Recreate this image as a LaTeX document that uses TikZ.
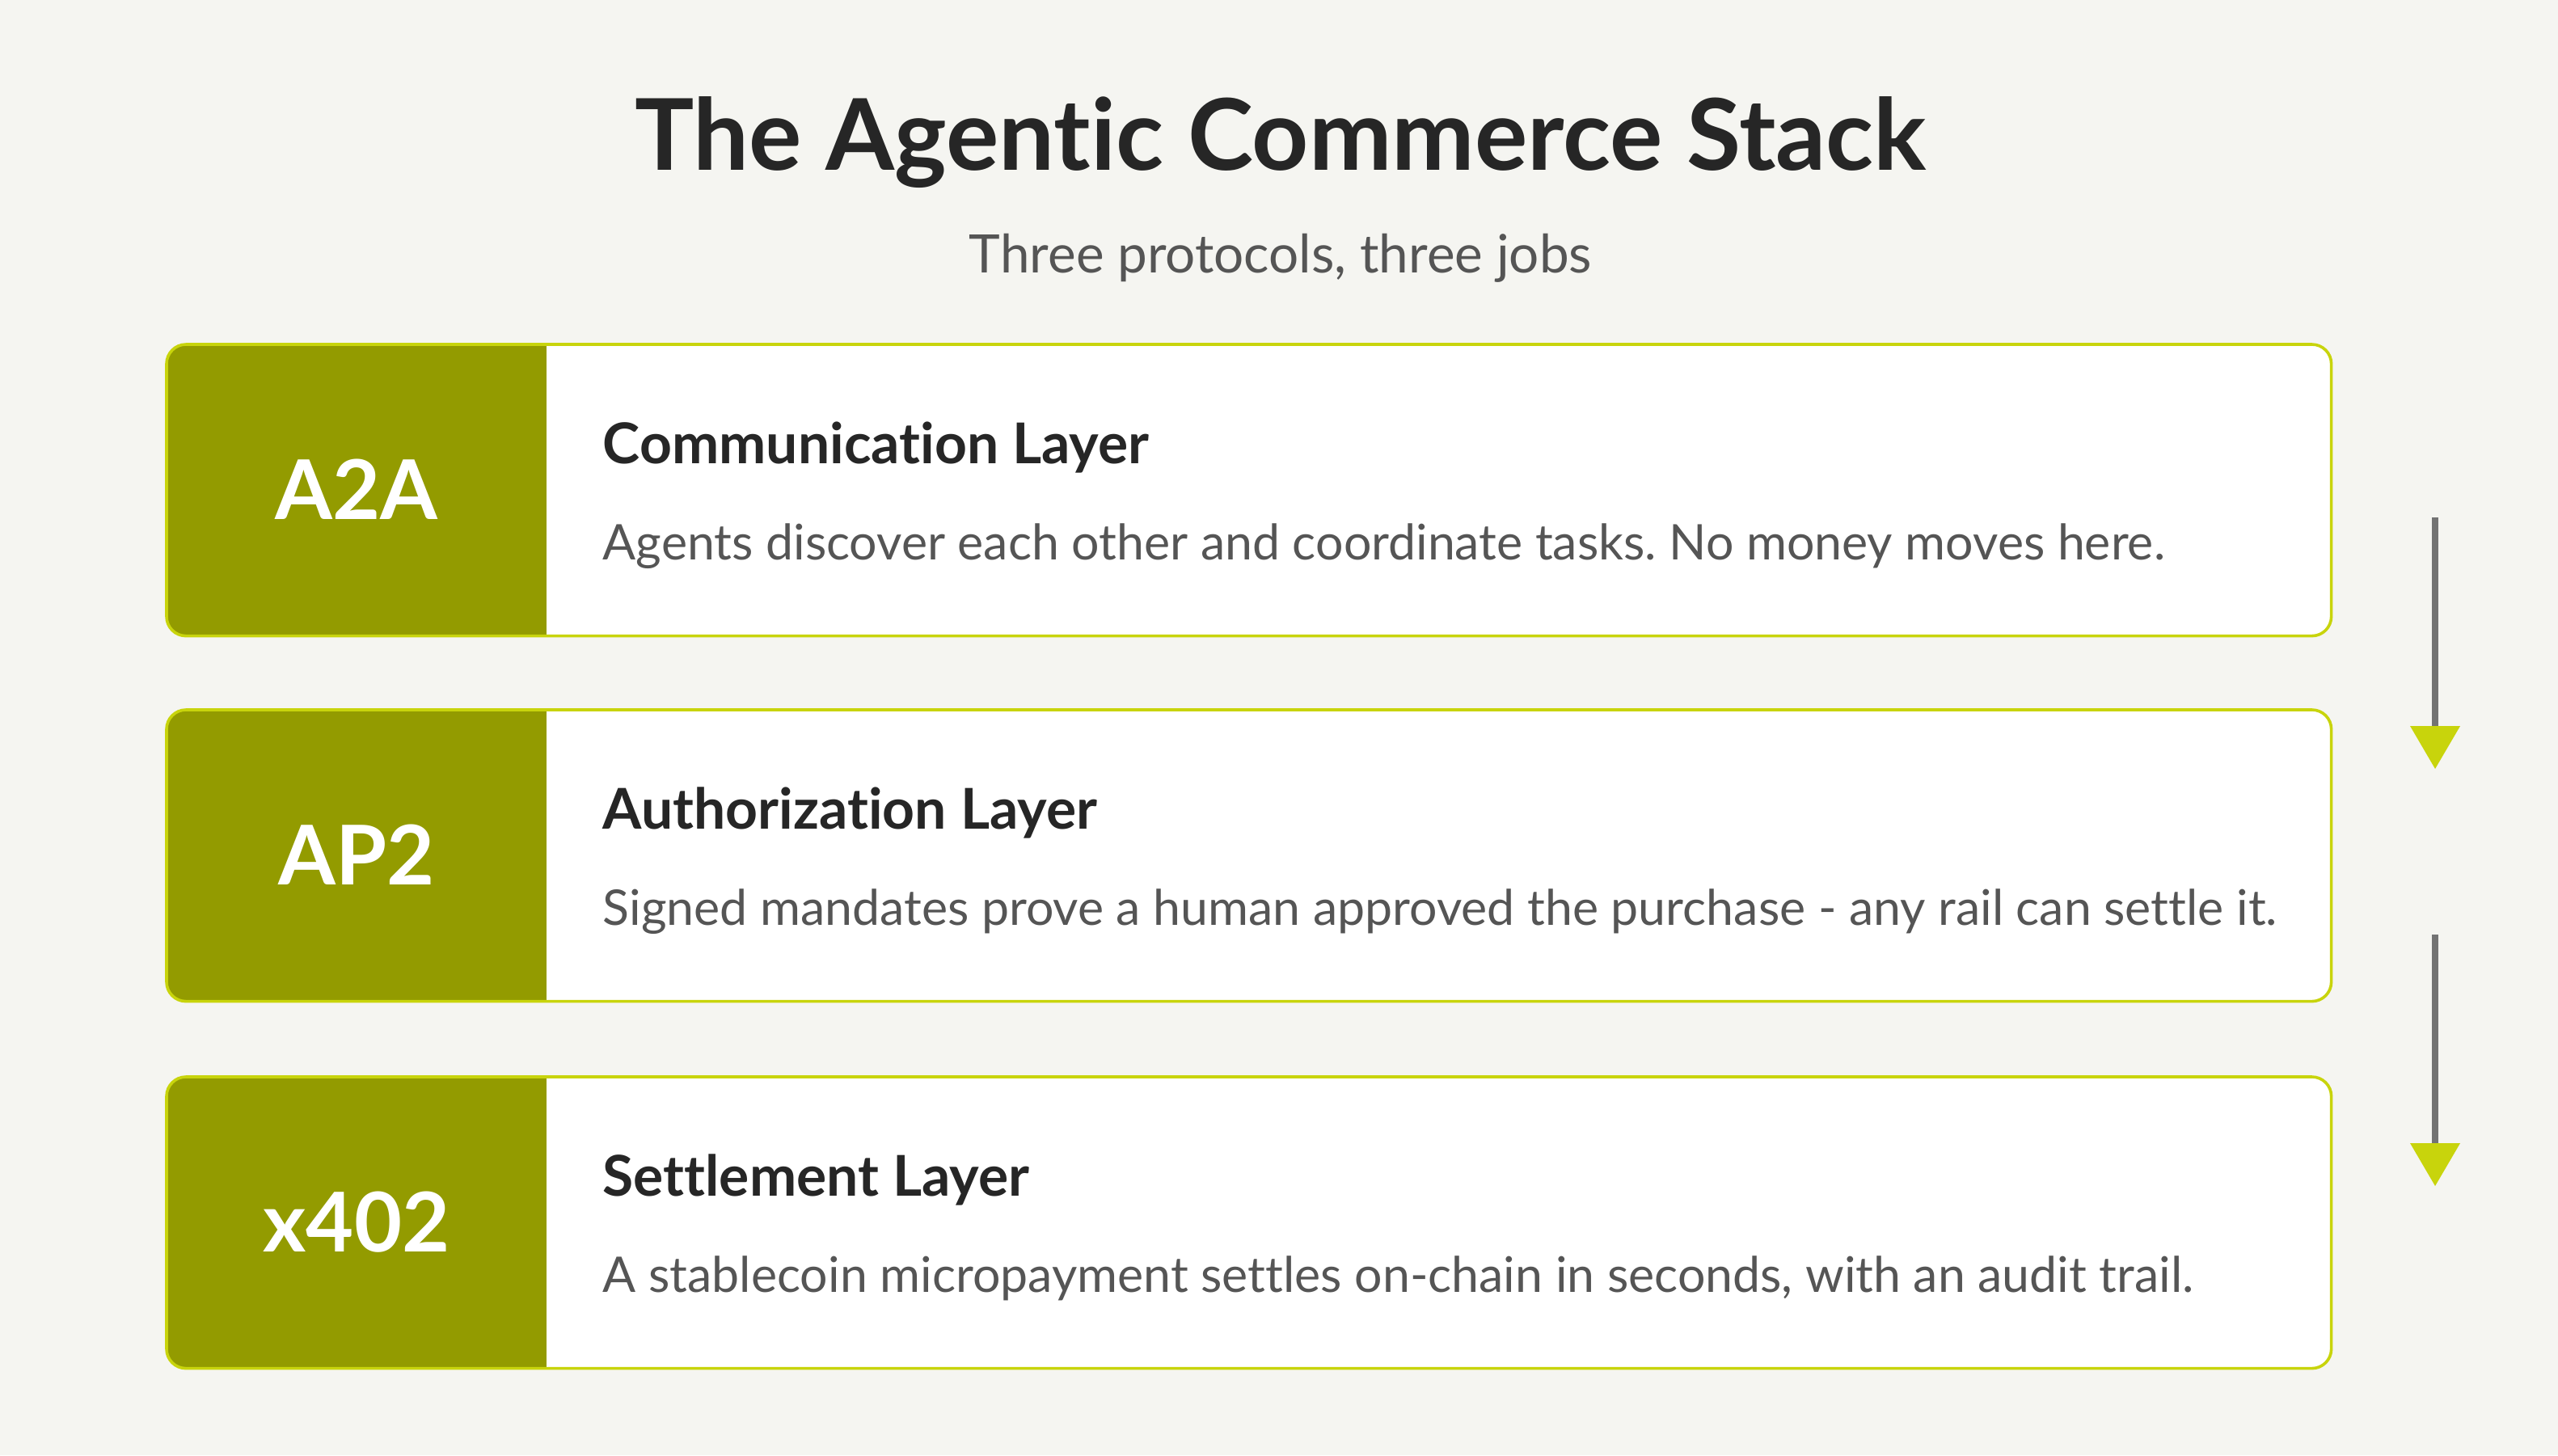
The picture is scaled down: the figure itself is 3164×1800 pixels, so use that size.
\documentclass[tikz,border=0pt]{standalone}
\usepackage{fontspec}
\setmainfont{Lato}[Ligatures=CommonOff]
\frenchspacing
\usetikzlibrary{arrows.meta}
\definecolor{bgc}{HTML}{F5F5F1}
\definecolor{limec}{HTML}{C8D40C}
\definecolor{olivec}{HTML}{939B00}
\definecolor{titlec}{HTML}{262626}
\definecolor{subc}{HTML}{555555}
\definecolor{arrowc}{HTML}{737373}
\tikzset{
  layerbox/.style={rectangle, rounded corners=6pt, fill=white, draw=none, anchor=north west,
    minimum width=669pt, minimum height=89.75pt, inner sep=0pt},
  boxborder/.style={draw=limec, line width=0.9pt, rounded corners=6pt},
  tagtext/.style={text=white, font=\fontsize{25.5}{30}\selectfont\bfseries},
  headtext/.style={anchor=base west, text=titlec, font=\fontsize{17.4}{20}\selectfont\bfseries, inner sep=0pt},
  desctext/.style={anchor=base west, text=subc, font=\fontsize{15.2}{18}\selectfont, inner sep=0pt},
  flowarrow/.style={draw=arrowc, line width=2pt,
    -{Triangle[width=15.5pt,length=13.25pt,fill=limec,color=limec,line width=0pt]}}
}
\begin{document}
\begin{tikzpicture}[x=0.25pt,y=-0.25pt]
\fill[bgc] (0,0) rectangle (3164,1800);
\useasboundingbox (0,0) rectangle (3164,1800);

\node[anchor=base, text=titlec, font=\fontsize{30.6}{36}\selectfont\bfseries, inner sep=0pt] (title) at (1584,210) {The Agentic Commerce Stack};
\node[anchor=base, text=subc, font=\fontsize{16.4}{20}\selectfont, inner sep=0pt] (subtitle) at (1584,337) {Three protocols, three jobs};

\foreach \n/\top/\tag/\head/\desc in {
  1/426/A2A/Communication Layer/Agents discover each other and coordinate tasks. No money moves here.,
  2/878/AP2/Authorization Layer/Signed mandates prove a human approved the purchase - any rail can settle it.,
  3/1332/x402/Settlement Layer/{A stablecoin micropayment settles on-chain in seconds, with an audit trail.}}{
  \node[layerbox] (box\n) at (206,\top) {};
  \begin{scope}
    \clip[rounded corners=6pt] (box\n.north west) rectangle (box\n.south east);
    \fill[olivec] (box\n.north west) rectangle (676,\top+359);
  \end{scope}
  \draw[boxborder] (box\n.north west) rectangle (box\n.south east);
  \node[tagtext] (tag\n) at (441,\top+179.5) {\tag};
  \node[headtext] (head\n) at (745,\top+147) {\head};
  \node[desctext] (desc\n) at (745,\top+266) {\desc};
}

\coordinate (a1s) at (3012,640);
\coordinate (a1e) at (3012,951);
\coordinate (a2s) at (3012,1156);
\coordinate (a2e) at (3012,1467);
\draw[flowarrow] (a1s) -- (a1e);
\draw[flowarrow] (a2s) -- (a2e);
\end{tikzpicture}
\end{document}
